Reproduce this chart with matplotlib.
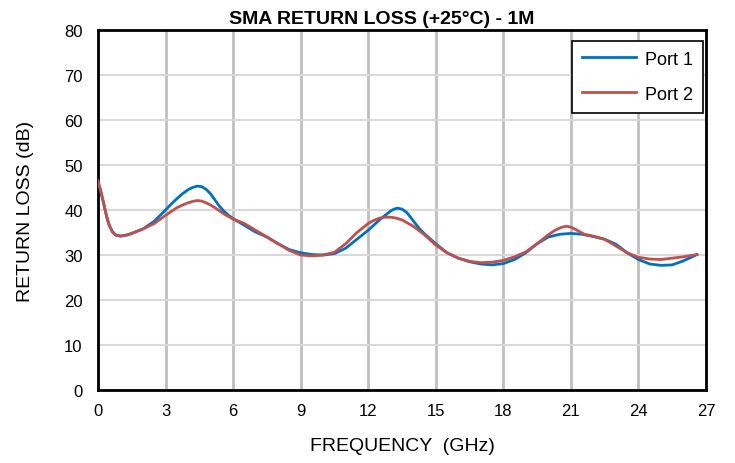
import matplotlib.pyplot as plt
import numpy as np

plt.rcParams['font.family'] = ['Liberation Sans', 'DejaVu Sans']

freq1 = [0, 0.1, 0.2, 0.3, 0.4, 0.5, 0.65, 0.8, 1, 1.25, 1.5, 2, 2.5, 3, 3.25, 3.5, 3.75, 4, 4.2,
         4.4, 4.6, 4.8, 5, 5.2, 5.4, 5.6, 5.8, 6, 6.5, 7, 7.5, 8, 8.5, 9, 9.5, 10, 10.5, 11,
         11.5, 12, 12.5, 12.8, 13, 13.15, 13.3, 13.5, 13.7, 13.85, 14, 14.25, 14.5, 15, 15.5,
         16, 16.5, 17, 17.5, 18, 18.5, 19, 19.5, 20, 20.5, 21, 21.5, 22, 22.5, 23, 23.5, 24,
         24.5, 25, 25.5, 26, 26.6]
port1 = [46, 44.5, 42.5, 40.3, 38.2, 36.6, 35.1, 34.4, 34.2, 34.4, 34.8, 35.8, 37.5, 40,
         41.3, 42.5, 43.6, 44.5, 45, 45.3, 45.2, 44.6, 43.6, 42.2, 40.8, 39.7, 38.8, 38.1,
         36.6, 35.1, 34, 32.5, 31.2, 30.5, 30.1, 30, 30.3, 31.5, 33.5, 35.5, 37.8, 39, 39.8,
         40.2, 40.4, 40.2, 39.5, 38.6, 37.6, 36, 34.7, 32.5, 30.5, 29.3, 28.5, 28, 27.8, 28.1,
         29, 30.5, 32.5, 34, 34.6, 34.8, 34.6, 34.1, 33.5, 32.4, 30.5, 29, 28, 27.7, 27.8,
         28.7, 30.1]

freq2 = [0, 0.1, 0.2, 0.3, 0.4, 0.5, 0.65, 0.8, 1, 1.25, 1.5, 2, 2.5, 3, 3.5, 3.75, 4, 4.2,
         4.4, 4.6, 4.8, 5, 5.2, 5.6, 6, 6.5, 7, 7.5, 8, 8.5, 9, 9.5, 10, 10.5, 11, 11.5, 12,
         12.25, 12.5, 12.75, 13, 13.25, 13.5, 14, 14.5, 15, 15.5, 16, 16.5, 17, 17.5, 18, 18.5,
         19, 19.5, 20, 20.3, 20.55, 20.8, 21, 21.2, 21.6, 22, 22.5, 23, 23.5, 24, 24.5, 25,
         25.5, 26, 26.6]
port2 = [46.5, 44.8, 42.7, 40.5, 38.3, 36.6, 35.1, 34.4, 34.2, 34.4, 34.8, 35.8, 37, 38.8,
         40.5, 41.1, 41.6, 41.9, 42.1, 42, 41.6, 41.1, 40.5, 39.1, 38, 37, 35.5, 34, 32.5, 31,
         30, 29.8, 30, 30.6, 32.5, 35, 37, 37.7, 38.2, 38.4, 38.4, 38.2, 37.8, 36.4, 34.5, 32.2,
         30.5, 29.3, 28.6, 28.3, 28.4, 28.8, 29.6, 30.7, 32.5, 34.5, 35.5, 36.1, 36.4, 36.2,
         35.7, 34.6, 34.2, 33.5, 32, 30.5, 29.5, 29.1, 29, 29.3, 29.6, 30.1]

xticks = list(range(0, 28, 3))
yticks = list(range(0, 81, 10))

fig = plt.figure(figsize=(7.35, 4.64), dpi=100)
ax = fig.add_axes([0.1333, 0.1573, 0.8272, 0.7759])

ax.plot(freq1, port1, color='#0070C0', lw=2, label='Port 1', zorder=3)
ax.plot(freq2, port2, color='#C0504D', lw=2, label='Port 2', zorder=3)

ax.set_xlim(0, 27)
ax.set_ylim(0, 80)
ax.set_xticks(xticks)
ax.set_yticks(yticks)
ax.tick_params(length=0, labelsize=12)
ax.tick_params(axis='y', pad=11)
ax.tick_params(axis='x', pad=9)
ax.xaxis.grid(True, color='#BFBFBF', lw=2)
ax.yaxis.grid(True, color='#D9D9D9', lw=1.5)
for s in ax.spines.values():
    s.set_linewidth(2)
    s.set_color('black')

ax.set_title('SMA RETURN LOSS (+25°C) - 1M', fontsize=14, fontweight='bold', pad=5, x=0.467)
ax.set_xlabel('FREQUENCY  (GHz)', fontsize=14, labelpad=14)
ax.set_ylabel('RETURN LOSS (dB)', fontsize=14, labelpad=22)

leg = ax.legend(loc='upper right', fontsize=13, fancybox=False, framealpha=1,
                edgecolor='black', borderpad=0.55, labelspacing=1.0, handlelength=3.0,
                handletextpad=0.5, borderaxespad=0, bbox_to_anchor=(0.995, 0.97))
leg.get_frame().set_linewidth(1.2)

fig.savefig('out.png', dpi=100)
